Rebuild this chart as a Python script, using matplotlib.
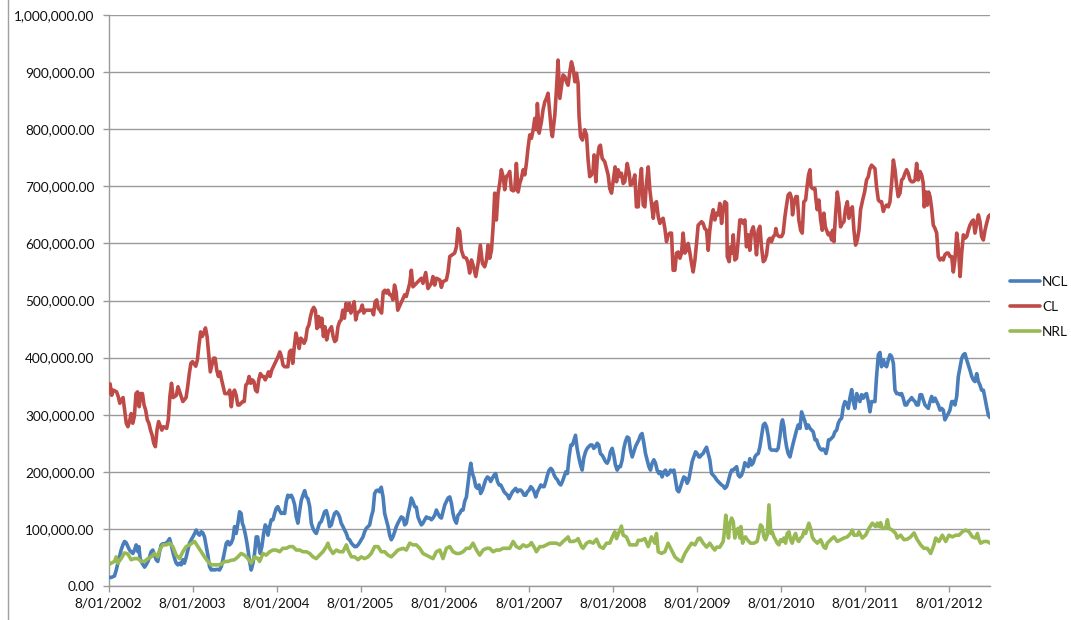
import matplotlib
matplotlib.use("Agg")
import matplotlib.pyplot as plt
from matplotlib.ticker import FuncFormatter, MultipleLocator
from matplotlib.lines import Line2D

# ---------------- data (x = weeks since 8/01/2002, y = thousands) ----------------
tick_labels = ["8/01/2002", "8/01/2003", "8/01/2004", "8/01/2005", "8/01/2006",
               "8/01/2007", "8/01/2008", "8/01/2009", "8/01/2010", "8/01/2011",
               "8/01/2012"]
tick_weeks = [0, 52, 104, 156, 208, 260, 312, 364, 416, 468, 520]
last_week = 545.5

series_names = ["NCL", "CL", "NRL"]

cl_points = [
    (0,337),(1,354),(2,334),(3,343),(5,340),(6,332),(7,320),(8,326),(9,330),(10,308),(11,285),(12,279),
    (13,288),(14,302),(15,285),(16,297),(17,337),(18,340),(19,314),(20,337),(21,337),(22,317),(23,308),
    (24,291),(25,285),(26,273),(27,264),(28,250),(29,244),(30,273),(31,288),(33,273),(34,279),(36,276),
    (37,291),(38,332),(39,355),(40,330),(42,334),(43,349),(45,332),(46,323),(48,330),(49,349),(50,372),
    (51,390),(52,393),(54,385),(55,396),(56,422),(57,445),(58,437),(59,443),(60,452),(61,437),(62,407),
    (63,375),(64,387),(65,399),(66,399),(67,378),(68,367),(69,375),(70,361),(71,349),(72,337),(74,337),
    (75,343),(76,314),(77,337),(78,343),(79,334),(80,317),(81,317),(83,323),(84,323),(85,352),(86,355),
    (87,367),(88,355),(89,361),(90,358),(91,343),(92,340),(93,361),(94,372),(95,367),(96,367),(97,361),
    (98,367),(99,375),(100,367),(101,378),(102,384),(103,390),(105,402),(106,410),(107,402),(108,387),
    (109,384),(110,384),(111,384),(112,410),(113,413),(114,390),(115,419),(116,443),(117,431),(118,416),
    (119,434),(120,431),(121,425),(122,431),(123,451),(124,457),(125,472),(126,483),(127,488),(128,483),
    (129,451),(130,472),(131,454),(132,469),(133,437),(134,454),(135,431),(136,445),(138,454),(139,437),
    (140,428),(141,431),(142,454),(143,463),(144,466),(145,483),(146,469),(147,495),(148,483),(149,495),
    (150,478),(151,486),(152,498),(153,466),(154,478),(156,483),(157,492),(158,478),(159,483),(161,483),
    (163,483),(164,475),(165,498),(166,501),(167,486),(168,483),(169,478),(170,515),(171,518),(172,513),
    (173,518),(174,510),(175,510),(176,501),(177,527),(178,515),(179,483),
    (183.3,510),(184.3,507),(186.4,530),(187.4,553),(188.4,524),(190.5,530),(192.6,536),(193.6,539),
    (194.6,530),(196.3,549),(197.7,521),(199.8,530),(200.8,542),(201.9,527),(202.9,539),(205.0,536),
    (206.0,523),(207.0,533),(209.1,536),(210.1,550),(211.2,577),(213.2,581),(214.2,583),(215.3,594),
    (216.3,626),(217.3,621),(218.4,588),(219.8,576),(221.5,574),(222.5,565),(223.5,548),(224.6,571),
    (225.6,562),(227.3,542),(228.7,565),(230.1,597),(231.4,565),(232.8,559),(233.9,571),(234.9,597),
    (235.9,574),(237.0,588),(238.0,629),(239.0,688),(240.0,641),(241.1,688),(242.1,705),(243.1,729),
    (244.2,717),(245.2,694),(246.2,717),(247.3,720),(248.3,726),(249.3,694),(250.4,692),(251.4,694),
    (252.4,740),(253.5,690),(254.5,705),(255.5,714),(256.6,729),(257.6,720),(258.6,740),(259.7,769),
    (260.7,790),(261.7,784),(262.8,799),(263.8,819),(264.8,799),(265.4,845),(266.5,793),(267.9,813),
    (268.9,834),(270.0,848),(271.0,854),(272.0,863),(273.1,828),(274.1,796),(274.7,787),(276.2,825),
    (277.2,869),(278.2,921),(279.3,854),(280.3,874),(281.3,895),(282.4,892),(283.4,883),(284.4,877),
    (285.5,901),(286.5,918),(287.5,907),(288.6,883),(289.6,898),(290.6,880),(291.2,822),(292.1,787),
    (293.3,781),(294.7,799),(295.8,790),(296.8,746),(297.8,717),(298.9,720),(299.9,729),(300.5,755),
    (301.6,708),(302.4,746),(303.6,769),(304.4,772),(305.5,749),(307.1,743),(308.2,731),(309.2,720),
    (310.2,696),(311.3,688),(312.7,717),(313.5,734),(314.4,708),(315.4,729),(316.4,717),(317.4,723),
    (318.5,705),(319.5,708),(321.0,740),(322.2,723),(323.0,702),(324.3,705),(325.7,720),(326.7,664),
    (327.8,664),(328.8,705),(329.8,731),(330.9,667),(331.9,664),(332.9,705),(334.0,734),(335.0,694),
    (336.0,670),(337.1,644),(338.1,670),(339.1,673),(340.2,647),(341.2,635),(342.2,641),(343.2,644),
    (344.3,626),(345.3,603),(346.3,615),(347.4,618),(348.4,618),(349.4,553),(350.5,553),(351.5,583),
    (352.5,585),(353.6,574),(354.6,583),(355.6,618),(356.7,583),(357.7,588),(358.7,600),(359.8,583),
    (360.8,565),(361.8,550),(362.9,571),(363.9,600),(364.9,632),(366.0,635),
    (367.0,638),(368.0,635),(369.0,626),(370.1,623),(371.1,588),(372.1,623),(373.2,647),(374.2,659),
    (375.2,641),(376.3,653),(377.3,650),(378.3,670),(379.4,635),(380.4,659),(381.4,673),(382.5,670),
    (382.9,577),(384.1,568),(384.9,594),(385.8,583),(386.6,615),(387.6,571),(388.7,574),(389.7,606),
    (390.7,641),(391.7,641),(392.8,635),(393.8,641),(394.8,594),(395.9,615),(396.9,588),(397.9,621),
    (399.0,629),(400.0,612),(401.0,580),(402.1,623),(403.1,630),(404.1,594),(405.2,568),(406.2,571),
    (407.2,580),(408.3,606),(409.3,609),(410.3,603),(411.4,612),(412.4,615),(413.0,626),(413.8,615),
    (415.1,612),(416.5,612),(417.5,618),(418.6,647),(419.6,667),(420.6,685),(421.7,688),(422.7,679),
    (423.3,650),(424.1,667),(425.4,682),(426.2,682),(427.2,641),(428.3,623),(429.3,618),(430.3,673),
    (431.4,676),(432.4,702),(433.2,720),(434.1,729),(434.7,699),(435.7,696),(437.2,696),(437.8,676),
    (438.6,659),(439.6,676),(440.7,641),(441.7,623),(442.7,653),(443.6,629),(444.4,623),(445.4,615),
    (446.4,618),(447.5,606),(448.1,623),(448.9,603),(450.0,653),(451.0,690),(452.0,670),(453.0,629),
    (454.1,635),(455.1,638),(456.1,661),(457.2,673),(458.2,644),(459.2,659),(460.3,664),(461.3,623),
    (462.3,597),(463.4,606),(464.4,623),(465.4,659),(466.7,676),(467.9,690),(469.1,711),(470.2,717),
    (471.2,731),(472.2,737),(473.3,734),(474.3,731),(475.3,699),(476.4,676),(477.4,673),(478.4,673),
    (479.5,656),(480.5,664),(481.5,667),(482.6,664),(483.6,673),(484.6,705),(485.7,746),(486.7,729),
    (487.7,702),(488.7,682),(489.8,688),(490.8,711),(491.8,714),(492.9,723),(493.9,729),(494.9,723),
    (496.0,711),(497.0,708),(498.0,708),(499.1,711),(500.1,740),(501.1,711),(502.2,726),(503.2,720),
    (504.2,705),(504.8,664),(505.9,690),(506.7,667),(507.5,690),(508.4,682),(509.4,661),(510.4,632),
    (511.5,626),(512.5,618),(513.5,577),(514.6,571),(515.6,574),(516.6,571),(517.6,580),(518.7,583),
    (519.7,583),(520.7,577),(521.8,577),(522.8,550),(523.8,571),(524.9,618),(525.9,594),(527.0,542),
    (528.0,583),(529.0,615),(530.0,609),(531.1,612),(532.1,623),(533.1,632),(534.2,638),(535.2,641),
    (536.2,618),(537.3,635),(538.3,650),(539.3,638),(540.3,612),(541.4,606),(542.4,623),(543.4,635),
    (544.5,647),(545.5,650),
]

ncl_points = [
    (0,15),(1.7,15),(3.7,17.5),(4.8,28),(5.8,40),(6.8,51),(7.8,63),(8.9,72),(9.9,78),(10.9,76),(12.0,69),
    (13.0,63),(14.0,60),(15.1,57),(16.1,63),(17.1,72),(18.2,60),(18.8,69),(19.6,48),(20.8,40),(22.3,33),
    (23.3,37),(24.4,43),(25.4,51),(26.4,60),(27.4,63),(28.5,54),(29.5,46),(30.5,43),(31.6,60),(32.6,72),
    (33.6,74),(34.7,74),(35.7,75),(36.7,78),(37.8,83),(38.8,72),(39.8,60),(40.9,48),(41.9,40),(42.9,37),
    (44.0,40),(45.0,37),(46.0,46),(47.0,40),(48.1,51),(49.1,63),(50.1,75),(51.2,81),(52.2,86),(53.3,92),
    (54.3,98),(55.3,92),(56.3,89),(57.4,95),(58.4,93),(59.4,86),(60.5,69),(61.5,54),(62.5,34),(63.6,28),
    (64.6,29),(65.6,28),(66.7,29),(67.7,29),(68.7,28),(69.8,34),(70.8,46),(71.8,60),(72.9,75),(73.9,78),
    (74.9,72),(75.9,75),(77.0,83),(78.0,104),(79.0,92),(80.1,110),(81.1,130),(82.1,127),(82.8,110),
    (83.6,104),(84.8,89),(85.7,75),(86.5,60),(87.3,43),(88.3,28),(89.4,40),(90.4,57),(91.4,86),(92.3,86),
    (93.1,69),(93.9,57),(94.9,69),(96.0,92),(97.0,107),(97.6,104),(98.7,89),(99.7,104),(100.7,116),
    (101.8,116),(102.8,127),(103.8,136),(104.8,139),(105.9,132),(106.9,127),(107.9,128),(109.0,127),
    (110.0,148),(111.0,159),(112.1,156),(113.1,159),(114.1,153),(115.2,142),(116.2,121),(117.2,110),
    (118.3,132),(119.3,150),(120.3,159),(121.4,167),(122.4,156),(123.4,153),(124.5,139),(125.5,110),
    (126.5,101),(127.6,95),(128.6,92),(129.6,101),(130.6,110),(131.7,113),(132.7,121),(133.7,130),
    (134.8,132),(135.8,121),(136.8,104),(137.9,107),(138.9,118),(139.9,127),(141.0,130),(142.0,127),
    (143.0,121),(144.0,110),(145.1,104),(146.1,98),(147.2,92),(148.2,83),(149.2,81),(150.3,75),(151.3,72),
    (152.3,69),(153.4,69),(154.4,72),(155.4,76),(156.4,81),(157.5,86),(158.5,95),(159.5,101),(160.6,104),
    (161.6,107),(162.6,121),(163.7,132),(164.7,162),(165.7,167),(166.8,168),(167.8,165),(168.8,173),
    (169.9,156),(170.9,127),(171.9,116),(173.0,104),(174.0,89),(175.0,81),(176.0,86),(177.1,95),
    (178.1,104),(179.1,110),(180.2,116),
    (181.2,121),(182.3,119),(183.3,107),(184.3,110),(185.4,127),(186.4,139),(187.4,154),(188.4,148),
    (189.5,139),(190.5,138),(191.5,121),(192.6,113),(193.6,107),(194.6,110),(195.7,116),(196.7,121),
    (197.7,119),(198.8,119),(199.8,116),(200.8,119),(201.9,124),(202.9,133),(203.9,127),(205.0,121),
    (206.0,119),(207.0,130),(208.1,142),(209.1,148),(210.1,154),(211.2,156),(212.2,145),(213.2,127),
    (214.2,116),(215.3,110),(216.3,124),(217.3,127),(218.4,133),(219.4,133),(220.4,148),(221.5,156),
    (222.5,180),(223.5,203),(224.2,215),(225.2,197),(226.2,189),(227.3,174),(228.3,171),(229.3,177),
    (230.3,162),(231.4,168),(232.4,177),(233.4,186),(234.5,191),(235.5,189),(236.5,183),(237.6,189),
    (238.6,194),(239.6,197),(240.7,183),(241.7,177),(242.7,177),(243.8,171),(244.8,165),(245.8,162),
    (246.9,159),(247.9,153),(248.9,159),(250.0,165),(251.0,168),(252.0,171),(253.1,165),(254.1,168),
    (255.1,168),(256.1,165),(257.2,159),(258.2,159),(259.2,165),(260.3,168),(261.3,174),(262.3,171),
    (263.4,165),(264.4,156),(265.4,165),(266.5,171),(267.5,177),(268.5,174),(269.6,174),(270.6,183),
    (271.6,194),(272.7,203),(273.7,206),(274.7,203),(275.8,194),(276.8,189),(277.8,186),(278.8,180),
    (279.9,177),(280.9,183),(281.9,191),(283.0,200),(284.0,197),(285.0,226),(286.1,247),(287.1,247),
    (288.1,256),(289.0,264),(290.0,241),(291.0,226),(292.1,212),(293.1,203),(294.1,224),(295.2,235),
    (296.2,241),(297.2,244),(298.3,247),(299.3,247),(300.3,241),(301.3,244),(302.4,250),(303.4,247),
    (304.4,232),(305.5,229),(306.5,224),(307.5,218),(308.6,215),(309.6,221),(310.6,235),(311.7,241),
    (312.7,229),(313.7,212),(314.8,203),(315.8,209),(316.8,209),(317.9,221),(318.9,241),(319.9,253),
    (321.0,261),(322.0,259),(323.0,238),(324.1,226),(325.1,235),(326.1,244),(327.1,250),(328.2,256),
    (329.2,264),(330.2,267),(331.3,250),(332.3,232),(333.3,221),(334.4,209),(335.4,203),(336.4,215),
    (337.5,221),(338.5,215),(339.5,203),(340.6,197),(341.6,200),(342.6,191),(343.7,200),(344.7,203),
    (345.7,194),(346.8,197),(347.8,203),(348.8,200),(349.9,203),(350.9,186),(351.9,168),(352.9,165),
    (354.0,174),(355.0,183),(356.0,191),(357.1,189),(358.1,180),(359.1,186),(360.2,203),(361.2,218),
    (362.2,226),(363.3,235),(364.3,232),(365.3,226),
    (366.0,226),(367.0,230),(368.0,232),(369.0,238),(370.1,243),(371.1,232),(372.1,221),(373.2,197),
    (374.2,194),(375.2,191),(376.3,186),(377.3,183),(378.3,180),(379.4,177),(380.4,175),(381.4,171),
    (382.5,174),(383.5,183),(384.5,194),(385.6,203),(386.6,203),(387.6,206),(388.7,209),(389.7,194),
    (390.7,191),(391.7,194),(392.8,203),(393.8,216),(394.8,212),(395.9,209),(396.9,223),(397.9,212),
    (399.0,216),(400.0,226),(401.0,230),(402.1,232),(403.1,244),(404.1,262),(405.2,282),(406.2,285),
    (407.2,279),(408.3,262),(409.3,241),(410.3,238),(411.4,238),(412.4,238),(413.4,237),(414.4,241),
    (415.5,262),(416.5,285),(417.1,291),(418.0,279),(418.6,262),(419.6,244),(420.6,232),(421.7,226),
    (422.7,238),(423.7,250),(424.8,262),(425.8,273),(426.8,282),(427.9,276),(428.9,305),(429.9,297),
    (431.0,288),(432.0,276),(433.0,282),(434.1,276),(435.1,273),(436.1,270),(437.2,256),(438.2,256),
    (439.2,247),(440.2,241),(441.3,238),(442.3,240),(443.3,237),(444.0,232),(444.8,241),(445.6,256),
    (446.4,256),(447.5,259),(448.5,262),(449.5,270),(450.6,273),(451.6,285),(452.6,291),(453.7,294),
    (454.7,314),(455.7,323),(456.8,320),(457.8,311),(458.8,329),(459.9,344),(460.9,323),(461.9,311),
    (463.0,337),(464.0,329),(465.0,323),(466.0,335),(467.1,329),(468.1,335),(469.1,337),(470.2,323),
    (471.2,305),(472.2,323),(473.3,323),(474.3,323),(475.3,367),(476.4,405),(477.4,409),(478.4,384),
    (479.5,396),(480.5,387),(481.5,384),(482.6,396),(483.6,405),(484.6,402),(485.7,390),(486.7,343),
    (487.7,337),(488.7,337),(489.8,335),(490.8,337),(491.8,329),(492.9,317),(493.9,317),(494.9,323),
    (496.0,326),(497.0,330),(498.0,326),(499.1,323),(500.1,317),(501.1,317),(502.2,335),(503.2,335),
    (504.2,326),(505.3,317),(506.3,314),(507.3,311),(508.4,323),(509.4,332),(510.4,323),(511.5,329),
    (512.5,323),(513.5,317),(514.6,308),(515.6,311),(516.6,308),(517.6,291),(518.7,297),(519.7,302),
    (520.7,308),(521.8,323),(522.8,323),(523.8,317),(524.9,332),(525.9,367),(527.0,384),(528.0,399),
    (529.0,405),(530.0,407),(531.1,396),(532.1,387),(533.1,378),(534.2,367),(535.2,361),(536.2,358),
    (537.3,372),(538.3,358),(539.3,352),(540.3,343),(541.4,343),(542.4,329),(543.4,314),(544.5,299),
    (545.5,295),
]

nrl_points = [
    (0,37),(1.65,40),(3.7,43),(4.75,51),(5.8,40),(7.8,48),(9.9,58),(12.0,56),(14.0,46),(16.1,48),
    (18.2,48),(20.2,43),(22.3,43),(24.4,48),(26.4,51),(28.5,57),(30.5,51),(31.6,63),(33.6,72),(35.7,72),
    (37.8,75),(39.8,69),(41.9,54),(44.0,48),(46.0,60),(48.1,69),(50.1,72),(52.2,76),(53.3,78),(55.3,69),
    (57.4,60),(59.4,51),(61.5,43),(63.6,37),(65.6,37),(67.7,37),(69.8,38),(71.8,43),(73.9,43),(75.9,45),
    (78.0,46),(80.1,51),(82.1,57),(84.2,54),(86.3,48),(88.3,40),(90.4,51),(92.5,48),(93.5,43),(95.6,57),
    (97.6,54),(99.7,60),(101.8,63),(103.8,63),(105.9,60),(107.9,66),(110.0,66),(112.1,69),(114.1,69),
    (116.2,63),(118.3,63),(120.3,60),(122.4,60),(124.5,57),(126.5,51),(128.6,48),(130.6,54),(132.7,60),
    (134.8,69),(135.8,75),(136.8,66),(138.9,57),(141.0,63),(143.0,60),(145.1,60),(147.2,72),(148.2,63),
    (150.3,51),(152.3,51),(154.4,46),(156.4,51),(158.5,48),(160.6,51),(162.6,57),(164.7,69),(166.8,69),
    (168.8,60),(170.9,60),(173.0,54),(175.0,51),(177.1,57),(179.1,63),
    (182.3,66),(184.3,63),(186.4,75),(188.4,72),(190.5,72),(192.6,66),(194.6,57),(196.7,54),(198.8,51),
    (200.8,48),(202.9,60),(205.0,63),(207.0,48),(209.1,66),(211.2,69),(213.2,60),(215.3,57),(217.3,57),
    (219.4,60),(221.5,66),(223.5,66),(225.6,75),(227.7,63),(229.7,54),(231.8,63),(233.9,66),(235.9,66),
    (238.0,60),(240.0,63),(242.1,63),(244.2,66),(246.2,66),(248.3,66),(250.4,78),(252.4,69),(254.5,66),
    (256.6,72),(258.6,69),(260.7,72),(261.7,76),(263.8,66),(264.8,60),(266.9,69),(268.9,69),(271.0,72),
    (273.1,75),(275.1,75),(277.2,75),(279.3,72),(281.3,78),(283.4,83),(284.4,86),(285.5,78),(287.5,78),
    (289.6,80),(290.6,83),(292.7,69),(293.7,66),(295.8,75),(297.8,78),(299.9,75),(302.0,82),(304.0,69),
    (306.1,66),(308.2,75),(310.2,75),(312.3,89),(313.3,95),(314.4,83),(316.4,98),(317.4,105),(318.5,89),
    (320.5,86),(322.6,72),(324.7,72),(326.7,72),(327.8,80),(329.8,80),(331.9,83),(334.0,69),(336.0,86),
    (338.1,75),(339.1,92),(340.2,60),(342.2,57),(344.3,60),(346.3,75),(348.4,63),(350.5,51),(352.5,46),
    (354.6,43),(356.7,57),(358.7,66),(360.8,75),(362.9,72),(364.9,83),
    (366.0,84),(368.0,75),(370.1,68),(372.1,75),(374.2,66),(375.2,63),(376.3,68),(378.3,68),(380.4,78),
    (381.0,92),(382.0,124),(382.9,98),(383.7,84),(384.5,110),(385.6,119),(386.6,113),(387.6,84),
    (388.6,98),(389.7,101),(390.7,84),(391.3,104),(392.4,75),(393.2,84),(394.2,86),(395.3,81),(396.3,78),
    (397.3,75),(399.4,75),(401.4,78),(402.5,92),(403.5,107),(404.5,104),(405.6,86),(406.6,81),(407.6,89),
    (408.7,142),(409.3,116),(409.9,92),(410.7,95),(411.8,86),(412.8,81),(413.8,75),(414.9,72),(415.9,81),
    (416.9,78),(418.0,84),(419.0,75),(420.0,92),(421.1,95),(422.1,81),(423.1,75),(424.2,86),(425.2,92),
    (426.2,81),(427.2,78),(428.3,84),(429.3,86),(430.3,95),(431.4,92),(432.4,101),(433.4,110),(434.5,101),
    (435.5,86),(436.5,81),(437.6,78),(438.6,75),(440.7,81),(442.7,68),(443.8,66),(444.8,75),(446.9,81),
    (448.9,86),(451.0,78),(453.0,81),(455.1,84),(457.2,86),(459.2,92),(460.3,98),(461.3,89),(463.4,89),
    (464.4,95),(466.5,84),(468.5,89),(470.6,101),(472.7,110),(474.7,104),(475.8,110),(476.8,104),
    (477.8,111),(478.8,101),(480.9,101),(482.0,116),(483.0,101),(485.0,98),(487.1,92),(488.1,84),
    (490.2,89),(492.3,81),(494.3,82),(496.4,86),(498.5,93),(500.5,81),(502.6,72),(504.6,66),(506.7,66),
    (508.8,57),(510.8,72),(511.9,84),(513.9,78),(516.0,89),(518.1,78),(520.1,89),(522.2,86),(524.3,89),
    (526.3,89),(528.4,95),(530.4,98),(532.5,95),(534.6,86),(536.6,84),(537.7,92),(538.7,81),(539.7,75),
    (541.8,78),(543.9,78),(545.5,75),
]

colors = {"NCL": "#4A7EBB", "CL": "#BE4B48", "NRL": "#98B954"}

# ---------------- figure ----------------
plt.rcParams["font.family"] = ["Lato", "DejaVu Sans"]
W, H = 1071, 620
fig = plt.figure(figsize=(W / 100, H / 100), dpi=100)
fig.patch.set_facecolor("white")

ax_l, ax_r, ax_t, ax_b = 108.5, 990.0, 15.0, 586.0
ax = fig.add_axes([ax_l / W, 1 - ax_b / H, (ax_r - ax_l) / W, (ax_b - ax_t) / H])

grid_c = "#9A9A9A"
for name, pts in (("NCL", ncl_points), ("CL", cl_points), ("NRL", nrl_points)):
    xs = [p[0] for p in pts]
    ys = [p[1] * 1000 for p in pts]
    ax.plot(xs, ys, color=colors[name], lw=2.6, solid_joinstyle="round",
            solid_capstyle="round", label=name, zorder=3)

ax.set_xlim(0, last_week)
ax.set_ylim(0, 1_000_000)
ax.yaxis.set_major_locator(MultipleLocator(100_000))
ax.yaxis.set_major_formatter(FuncFormatter(lambda v, p: f"{v:,.2f}"))
ax.set_xticks(tick_weeks)
ax.set_xticklabels(tick_labels)

ax.grid(axis="y", color=grid_c, lw=1.0, zorder=0)
ax.set_axisbelow(True)
for s in ("top", "right"):
    ax.spines[s].set_visible(False)
for s in ("left", "bottom"):
    ax.spines[s].set_color(grid_c)
    ax.spines[s].set_linewidth(1.0)

ax.tick_params(axis="y", length=4, width=1, color=grid_c, pad=6,
               labelsize=9.8, labelcolor="#111111")
ax.tick_params(axis="x", length=4, width=1, color=grid_c, pad=4,
               labelsize=9.8, labelcolor="#111111")

leg = ax.legend(loc="upper left", bbox_to_anchor=(1010 / W, 1 - 276 / H),
                bbox_transform=fig.transFigure, frameon=False, borderpad=0,
                borderaxespad=0, handlelength=2.2, handletextpad=0.15,
                labelspacing=0.95, fontsize=9.8)
for t in leg.get_texts():
    t.set_color("#111111")

# outer chart border (left edge visible)
fig.add_artist(Line2D([7.5 / W, 7.5 / W], [0, 1], color="#A0A0A0", lw=1.0,
                      transform=fig.transFigure))

fig.savefig("out.png", dpi=100, facecolor="white")
